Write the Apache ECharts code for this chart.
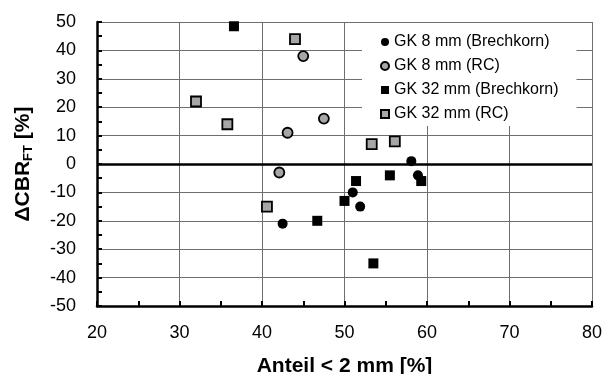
<!DOCTYPE html>
<html>
<head>
<meta charset="utf-8">
<script src="https://cdn.jsdelivr.net/npm/echarts@6/dist/echarts.min.js"></script>
<style>
  html, body { margin: 0; padding: 0; background: #fff; }
  #chart { width: 602px; height: 374px; }
</style>
</head>
<body>
<div id="chart"></div>
<script>
  // Werte
  const gk8BrechX = [42.5, 51.0, 51.9, 58.1, 58.9];
  const gk8BrechY = [-21, -10, -15, 1, -4];
  const gk8RcX = [42.1, 43.1, 45.0, 47.5];
  const gk8RcY = [-3, 11, 38, 16];
  const gk32BrechX = [36.6, 46.7, 50.0, 51.4, 53.5, 55.5, 59.3];
  const gk32BrechY = [48.5, -20, -13, -6, -35, -4, -6];
  const gk32RcX = [32.0, 35.8, 40.6, 44.0, 53.3, 56.1];
  const gk32RcY = [22, 14, -15, 44, 7, 8];

  const seriesNames = ['GK 8 mm (Brechkorn)', 'GK 8 mm (RC)', 'GK 32 mm (Brechkorn)', 'GK 32 mm (RC)'];

  const pair = (xs, ys) => xs.map((x, i) => [x, ys[i]]);

  const font = "'Liberation Sans', Arial, sans-serif";
  const black = '#000';
  const gray = '#a6a6a6';

  const chart = echarts.init(document.getElementById('chart'));

  const option = {
    animation: false,
    backgroundColor: '#fff',
    textStyle: { fontFamily: font, color: black },
    grid: { left: 97, right: 10, top: 22, bottom: 68, outerBoundsMode: 'none', containLabel: false },
    legend: {
      orient: 'vertical',
      left: 362,
      top: 23,
      padding: [11, 18, 4, 18],
      backgroundColor: '#fff',
      itemWidth: 8,
      itemHeight: 8,
      itemGap: 8,
      textStyle: { fontFamily: font, fontSize: 16, color: black, lineHeight: 16 },
      data: seriesNames,
    },
    xAxis: {
      type: 'value',
      min: 20,
      max: 80,
      interval: 10,
      name: 'Anteil < 2 mm [%]',
      nameLocation: 'middle',
      nameGap: 50,
      nameTextStyle: { fontFamily: font, fontSize: 21, fontWeight: 'bold', color: black },
      axisLine: { show: true, onZero: false, lineStyle: { color: black, width: 2.5 } },
      axisTick: { show: true, inside: true, length: 5, lineStyle: { color: black, width: 2 } },
      minorTick: { show: true, splitNumber: 2, length: 5, lineStyle: { color: black, width: 2 } },
      axisLabel: { fontFamily: font, fontSize: 18, color: black, margin: 18 },
      splitLine: { show: true, lineStyle: { color: '#6e6e6e', width: 1 } },
    },
    yAxis: {
      type: 'value',
      min: -50,
      max: 50,
      interval: 10,
      name: '{a|ΔCBR}{sub|FT}{a| [%]}',
      nameLocation: 'middle',
      nameGap: 62,
      nameRotate: 90,
      nameTextStyle: {
        rich: {
          a: { fontFamily: font, fontSize: 21, fontWeight: 'bold', color: black },
          sub: { fontFamily: font, fontSize: 13, fontWeight: 'bold', color: black, padding: [10, 0, 0, 0] },
        },
      },
      axisLine: { show: true, onZero: false, lineStyle: { color: black, width: 2.5 } },
      axisTick: { show: true, inside: true, length: 5, lineStyle: { color: black, width: 2 } },
      minorTick: { show: true, splitNumber: 2, length: 5, lineStyle: { color: black, width: 2 } },
      axisLabel: { fontFamily: font, fontSize: 18, color: black, margin: 21 },
      splitLine: { show: true, lineStyle: { color: '#6e6e6e', width: 1 } },
    },
    series: [
      {
        name: seriesNames[0],
        type: 'scatter',
        symbol: 'circle',
        symbolSize: 10,
        itemStyle: { color: black, opacity: 1 },
        data: pair(gk8BrechX, gk8BrechY),
        z: 3,
        markLine: {
          silent: true,
          symbol: 'none',
          label: { show: false },
          lineStyle: { color: black, width: 2.5, type: 'solid' },
          data: [{ yAxis: 0 }],
          z: 2,
        },
      },
      {
        name: seriesNames[1],
        type: 'scatter',
        symbol: 'circle',
        symbolSize: 10,
        itemStyle: { color: gray, borderColor: black, borderWidth: 1.8, opacity: 1 },
        data: pair(gk8RcX, gk8RcY),
        z: 3,
      },
      {
        name: seriesNames[2],
        type: 'scatter',
        symbol: 'rect',
        symbolSize: 10,
        itemStyle: { color: black, opacity: 1 },
        data: pair(gk32BrechX, gk32BrechY),
        z: 3,
      },
      {
        name: seriesNames[3],
        type: 'scatter',
        symbol: 'rect',
        symbolSize: 10,
        itemStyle: { color: gray, borderColor: black, borderWidth: 1.8, opacity: 1 },
        data: pair(gk32RcX, gk32RcY),
        z: 3,
      },
    ],
  };

  chart.setOption(option);
</script>
</body>
</html>
